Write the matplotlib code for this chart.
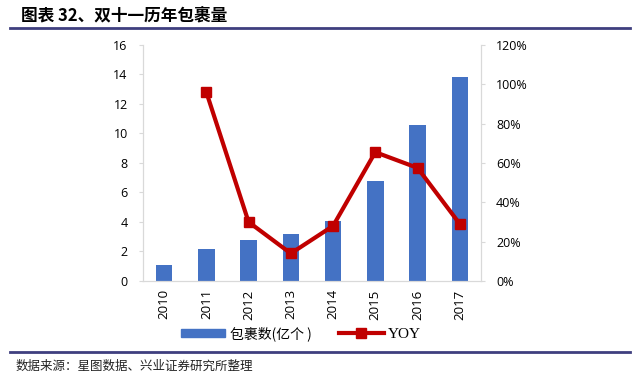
import numpy as np
import matplotlib.pyplot as plt
from matplotlib.lines import Line2D
from matplotlib.ticker import FuncFormatter

plt.rcParams['font.family'] = ['Noto Sans CJK SC', 'DejaVu Sans']

years = ["2010", "2011", "2012", "2013", "2014", "2015", "2016", "2017"]
parcels = [1.06, 2.15, 2.78, 3.2, 4.05, 6.78, 10.6, 13.8]
yoy = [np.nan, 96.0, 30.0, 14.0, 28.0, 65.5, 57.5, 29.0]

bar_color = "#4472C4"
line_color = "#C00000"
axis_gray = "#D9D9D9"
rule_color = "#3F3F7F"

fig = plt.figure(figsize=(6.4, 3.76), dpi=100)
ax = fig.add_axes([0.2234, 0.2527, 0.528, 0.6277])
ax2 = ax.twinx()

x = np.arange(len(years))
ax.bar(x, parcels, width=0.39, color=bar_color, zorder=2)
ax2.plot(x, yoy, color=line_color, lw=3, marker="s", markersize=7, zorder=3)

ax.set_xlim(-0.5, 7.5)
ax.set_ylim(0, 16)
ax.set_yticks(range(0, 17, 2))
ax2.set_ylim(0, 120)
ax2.set_yticks(range(0, 121, 20))
ax2.yaxis.set_major_formatter(FuncFormatter(lambda v, p: f"{int(v)}%"))

ax.set_xticks(x)
ax.set_xticklabels(years, rotation=90)

for a in (ax, ax2):
    a.spines["top"].set_visible(False)
    for s in ("left", "right", "bottom"):
        a.spines[s].set_color(axis_gray)
        a.spines[s].set_linewidth(0.8)
    a.tick_params(colors=axis_gray, labelcolor="black", labelsize=9, length=3, width=0.8)
    for lab in a.get_xticklabels() + a.get_yticklabels():
        lab.set_family(["Open Sans", "DejaVu Sans"])
ax.tick_params(axis="x", length=0, pad=6, labelsize=9.5)
ax2.tick_params(axis="y", pad=8)
ax.tick_params(axis="y", pad=8)

handles = [
    plt.Rectangle((0, 0), 1, 1, color=bar_color),
    Line2D([0], [0], color=line_color, lw=3, marker="s", markersize=7),
]
leg = fig.legend(handles, ["包裹数(亿个 )", "YOY"], loc="center", bbox_to_anchor=(0.47, 0.113),
                 ncol=2, frameon=False, fontsize=10, handlelength=3.2, handleheight=0.5,
                 columnspacing=2.0, handletextpad=0.3)
leg.get_texts()[1].set_family(["Liberation Serif", "DejaVu Serif"])
leg.get_texts()[1].set_fontsize(11)

fig.text(0.033, 0.955, "图表 32、双十一历年包裹量", fontsize=12, fontweight="bold", va="center")
fig.add_artist(Line2D([0.016, 0.984], [0.925, 0.925], color=rule_color, lw=2))
fig.add_artist(Line2D([0.016, 0.984], [0.064, 0.064], color=rule_color, lw=2))
fig.text(0.024, 0.027, "数据来源：星图数据、兴业证券研究所整理", fontsize=9, va="center", color="#222222")

fig.savefig("out.png", dpi=100)
